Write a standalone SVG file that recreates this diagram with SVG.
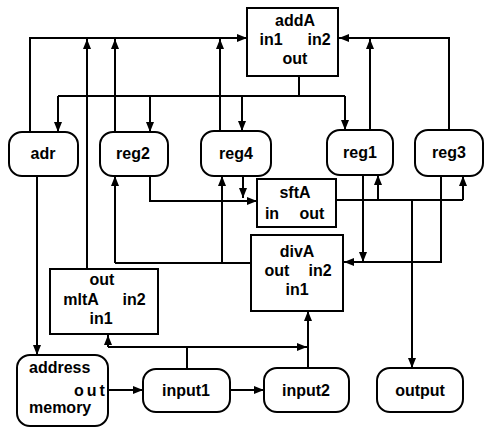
<svg xmlns="http://www.w3.org/2000/svg" width="491" height="431" viewBox="0 0 491 431">
<defs>
<marker id="ah" viewBox="0 0 10 8" refX="10" refY="4" markerWidth="10" markerHeight="8" markerUnits="userSpaceOnUse" orient="auto">
<path d="M0,0 L10,4 L0,8 Z" fill="#000"/>
</marker>
<style>
.n{fill:#fff;stroke:#000;stroke-width:2}
.t{font-family:"Liberation Sans",Arial,sans-serif;font-size:16px;font-weight:bold;fill:#000}
.m{text-anchor:middle}
.c{fill:none;stroke:#000;stroke-width:2}
.a{marker-end:url(#ah)}
</style>
</defs>
<rect width="491" height="431" fill="#fff"/>
<g id="connectors">
<polyline class="c a" points="30,132 30,38 247,38"/>
<polyline class="c a" points="87,269 87,39"/>
<polyline class="c a" points="115,132 115,39"/>
<polyline class="c a" points="220,131 220,39"/>
<polyline class="c" points="299,76 299,96"/>
<polyline class="c" points="58,96 345,96"/>
<polyline class="c a" points="58,96 58,132"/>
<polyline class="c a" points="150,96 150,132"/>
<polyline class="c a" points="242,96 242,131"/>
<polyline class="c a" points="345,96 345,130"/>
<polyline class="c a" points="370,130 370,39"/>
<polyline class="c a" points="449,130 449,38 339,38"/>
<polyline class="c a" points="150,176 150,201 257,201"/>
<polyline class="c a" points="243,176 243,198"/>
<polyline class="c" points="336,200 463,200"/>
<polyline class="c a" points="378,200 378,175"/>
<polyline class="c a" points="463,200 463,176"/>
<polyline class="c a" points="412,200 412,368"/>
<polyline class="c a" points="363,175 363,262"/>
<polyline class="c a" points="441,176 441,262 344,262"/>
<polyline class="c" points="251,263 115,263"/>
<polyline class="c a" points="115,263 115,176"/>
<polyline class="c a" points="222,263 222,176"/>
<polyline class="c a" points="37,176 37,355"/>
<polyline class="c a" points="108,390 143,390"/>
<polyline class="c a" points="230,390 264,390"/>
<polyline class="c" points="187,369 187,347"/>
<polyline class="c a" points="108,347 307,347"/>
<polyline class="c a" points="108,347 108,335"/>
<polyline class="c a" points="308,368 308,311"/>
</g>
<g id="addA">
<rect class="n" x="247" y="8" width="91" height="68"/>
<text class="t m" x="295" y="26">addA</text>
<text class="t m" x="271" y="45">in1</text>
<text class="t m" x="319" y="45">in2</text>
<text class="t m" x="295" y="64">out</text>
</g>
<g id="adr">
<rect class="n" x="9" y="132" width="69" height="44" rx="13"/>
<text class="t m" x="43" y="159">adr</text>
</g>
<g id="reg2">
<rect class="n" x="100" y="132" width="68" height="44" rx="13"/>
<text class="t m" x="133" y="159">reg2</text>
</g>
<g id="reg4">
<rect class="n" x="201" y="131" width="70" height="45" rx="13"/>
<text class="t m" x="236" y="159">reg4</text>
</g>
<g id="reg1">
<rect class="n" x="327" y="130" width="66" height="45" rx="13"/>
<text class="t m" x="360" y="158">reg1</text>
</g>
<g id="reg3">
<rect class="n" x="415" y="130" width="68" height="46" rx="13"/>
<text class="t m" x="449" y="158">reg3</text>
</g>
<g id="sftA">
<rect class="n" x="257" y="179" width="79" height="48"/>
<text class="t m" x="295" y="198">sftA</text>
<text class="t m" x="272" y="219">in</text>
<text class="t m" x="312" y="219">out</text>
</g>
<g id="divA">
<rect class="n" x="251" y="235" width="92" height="76"/>
<text class="t m" x="297" y="257">divA</text>
<text class="t m" x="277" y="276">out</text>
<text class="t m" x="320" y="276">in2</text>
<text class="t m" x="297" y="295">in1</text>
</g>
<g id="mltA">
<rect class="n" x="50" y="269" width="108" height="65"/>
<text class="t m" x="102" y="285">out</text>
<text class="t m" x="81" y="305">mltA</text>
<text class="t m" x="134" y="305">in2</text>
<text class="t m" x="101" y="324">in1</text>
</g>
<g id="memory">
<rect class="n" x="17" y="355" width="91" height="71" rx="13"/>
<text class="t" x="29" y="373">address</text>
<text class="t" x="74" y="396" style="letter-spacing:3px">out</text>
<text class="t" x="29" y="413">memory</text>
</g>
<g id="input1">
<rect class="n" x="143" y="369" width="87" height="43" rx="13"/>
<text class="t m" x="186" y="396">input1</text>
</g>
<g id="input2">
<rect class="n" x="264" y="368" width="85" height="44" rx="13"/>
<text class="t m" x="306" y="396">input2</text>
</g>
<g id="output">
<rect class="n" x="377" y="368" width="86" height="44" rx="13"/>
<text class="t m" x="420" y="396">output</text>
</g>
</svg>
